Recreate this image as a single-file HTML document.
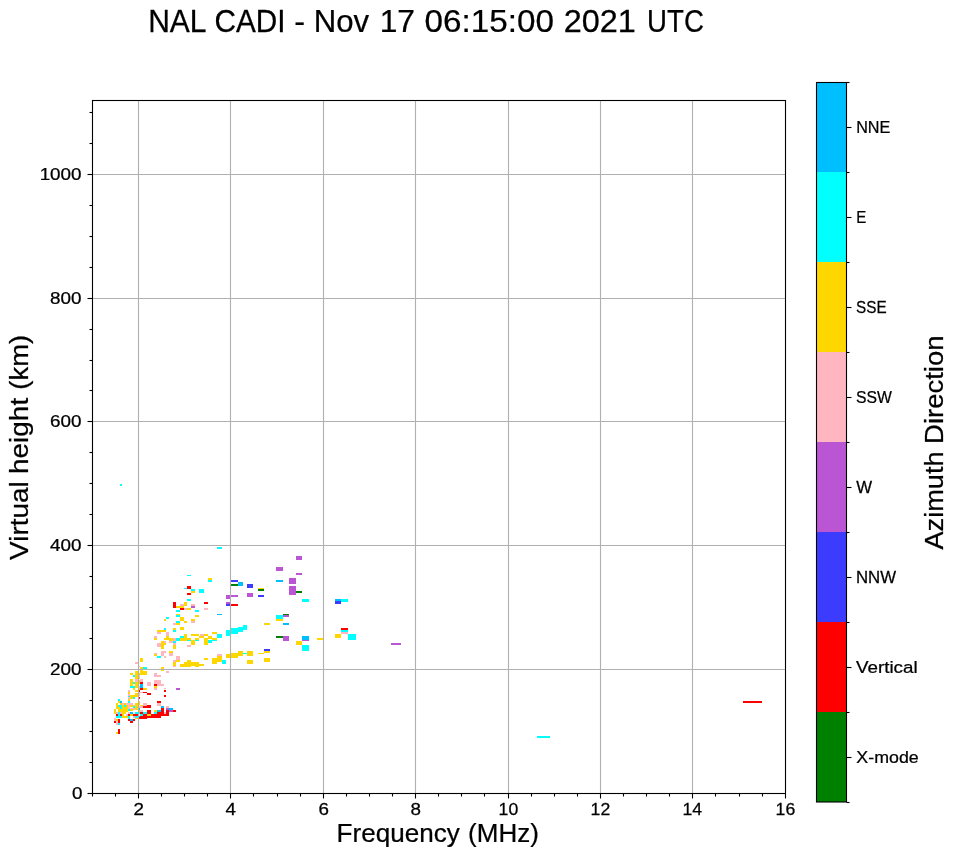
<!DOCTYPE html>
<html><head><meta charset="utf-8"><style>
html,body{margin:0;padding:0;background:#fff;width:958px;height:857px;overflow:hidden}
svg{display:block;will-change:transform}
text{font-family:"Liberation Sans",sans-serif;fill:#000;stroke:#000;stroke-width:0.25px}
</style></head><body>
<svg width="958" height="857" viewBox="0 0 958 857" shape-rendering="auto"><rect x="0" y="0" width="958" height="857" fill="#fff"/>
<g shape-rendering="crispEdges">
<rect x="217" y="547" width="5" height="2" fill="#00ffff"/>
<rect x="187" y="575" width="4" height="1" fill="#00ffff"/>
<rect x="208" y="578" width="4" height="2" fill="#ffd700"/>
<rect x="208" y="580" width="4" height="2" fill="#00ffff"/>
<rect x="231" y="580" width="7" height="2" fill="#3c3cff"/>
<rect x="231" y="584" width="7" height="2" fill="#008000"/>
<rect x="238" y="582" width="5" height="4" fill="#00bfff"/>
<rect x="187" y="586" width="4" height="3" fill="#ff0000"/>
<rect x="184" y="588" width="3" height="1" fill="#00ffff"/>
<rect x="191" y="589" width="4" height="2" fill="#00ffff"/>
<rect x="191" y="591" width="4" height="2" fill="#ffd700"/>
<rect x="199" y="589" width="5" height="4" fill="#00ffff"/>
<rect x="187" y="593" width="4" height="2" fill="#ff0000"/>
<rect x="226" y="595" width="4" height="4" fill="#ba55d3"/>
<rect x="231" y="595" width="7" height="2" fill="#ba55d3"/>
<rect x="187" y="599" width="4" height="2" fill="#00ffff"/>
<rect x="204" y="602" width="4" height="2" fill="#ff0000"/>
<rect x="173" y="602" width="3" height="6" fill="#ff0000"/>
<rect x="180" y="604" width="4" height="2" fill="#ffb6c1"/>
<rect x="184" y="602" width="3" height="4" fill="#ffd700"/>
<rect x="191" y="604" width="4" height="2" fill="#ffb6c1"/>
<rect x="191" y="606" width="4" height="2" fill="#ba55d3"/>
<rect x="176" y="606" width="8" height="2" fill="#ffd700"/>
<rect x="226" y="602" width="4" height="2" fill="#ba55d3"/>
<rect x="226" y="604" width="4" height="2" fill="#3c3cff"/>
<rect x="231" y="604" width="7" height="2" fill="#ff0000"/>
<rect x="180" y="608" width="4" height="2" fill="#ff0000"/>
<rect x="184" y="608" width="3" height="2" fill="#ffb6c1"/>
<rect x="187" y="608" width="4" height="2" fill="#ffd700"/>
<rect x="204" y="608" width="4" height="2" fill="#ffb6c1"/>
<rect x="176" y="610" width="4" height="2" fill="#00ffff"/>
<rect x="195" y="610" width="4" height="2" fill="#00ffff"/>
<rect x="296" y="556" width="6" height="4" fill="#ba55d3"/>
<rect x="276" y="567" width="7" height="4" fill="#ba55d3"/>
<rect x="296" y="573" width="6" height="2" fill="#ba55d3"/>
<rect x="276" y="580" width="7" height="2" fill="#00bfff"/>
<rect x="289" y="578" width="7" height="6" fill="#ba55d3"/>
<rect x="289" y="586" width="7" height="9" fill="#ba55d3"/>
<rect x="296" y="591" width="6" height="2" fill="#008000"/>
<rect x="247" y="584" width="6" height="4" fill="#3c3cff"/>
<rect x="258" y="588" width="6" height="1" fill="#ffd700"/>
<rect x="258" y="589" width="6" height="2" fill="#008000"/>
<rect x="247" y="593" width="6" height="4" fill="#ba55d3"/>
<rect x="258" y="595" width="6" height="2" fill="#3c3cff"/>
<rect x="302" y="599" width="7" height="3" fill="#00ffff"/>
<rect x="335" y="599" width="6" height="2" fill="#00bfff"/>
<rect x="335" y="601" width="6" height="3" fill="#3c3cff"/>
<rect x="341" y="599" width="7" height="3" fill="#00ffff"/>
<rect x="341" y="628" width="7" height="2" fill="#ff0000"/>
<rect x="341" y="630" width="7" height="2" fill="#00ffff"/>
<rect x="341" y="632" width="7" height="2" fill="#ffb6c1"/>
<rect x="335" y="634" width="6" height="4" fill="#ffd700"/>
<rect x="348" y="634" width="8" height="6" fill="#00ffff"/>
<rect x="302" y="636" width="7" height="4" fill="#00bfff"/>
<rect x="302" y="640" width="7" height="1" fill="#ba55d3"/>
<rect x="296" y="641" width="6" height="4" fill="#ffd700"/>
<rect x="302" y="645" width="7" height="6" fill="#00ffff"/>
<rect x="317" y="638" width="6" height="2" fill="#ffd700"/>
<rect x="391" y="643" width="10" height="2" fill="#ba55d3"/>
<rect x="120" y="484" width="2" height="2" fill="#00ffff"/>
<rect x="537" y="736" width="13" height="2" fill="#00ffff"/>
<rect x="743" y="701" width="19" height="2" fill="#ff0000"/>
<rect x="217" y="614" width="5" height="1" fill="#00bfff"/>
<rect x="276" y="615" width="7" height="4" fill="#00ffff"/>
<rect x="276" y="619" width="7" height="2" fill="#ffd700"/>
<rect x="283" y="614" width="6" height="1" fill="#008000"/>
<rect x="283" y="615" width="6" height="2" fill="#ba55d3"/>
<rect x="264" y="623" width="6" height="2" fill="#ffd700"/>
<rect x="283" y="623" width="6" height="2" fill="#00bfff"/>
<rect x="243" y="625" width="4" height="5" fill="#00ffff"/>
<rect x="238" y="627" width="5" height="5" fill="#00ffff"/>
<rect x="231" y="628" width="7" height="6" fill="#00ffff"/>
<rect x="226" y="630" width="4" height="6" fill="#00ffff"/>
<rect x="212" y="632" width="5" height="2" fill="#ffd700"/>
<rect x="200" y="634" width="4" height="2" fill="#ffb6c1"/>
<rect x="204" y="634" width="4" height="2" fill="#ffd700"/>
<rect x="200" y="636" width="4" height="2" fill="#ffd700"/>
<rect x="217" y="634" width="5" height="4" fill="#00ffff"/>
<rect x="208" y="636" width="4" height="3" fill="#ffd700"/>
<rect x="212" y="638" width="5" height="2" fill="#ffd700"/>
<rect x="204" y="638" width="4" height="7" fill="#ffd700"/>
<rect x="208" y="640" width="4" height="3" fill="#00ffff"/>
<rect x="212" y="640" width="5" height="1" fill="#00ffff"/>
<rect x="276" y="636" width="7" height="2" fill="#008000"/>
<rect x="283" y="636" width="6" height="5" fill="#ba55d3"/>
<rect x="264" y="649" width="6" height="2" fill="#3c3cff"/>
<rect x="264" y="651" width="6" height="2" fill="#ffd700"/>
<rect x="258" y="653" width="6" height="1" fill="#ffd700"/>
<rect x="247" y="651" width="6" height="5" fill="#ffd700"/>
<rect x="243" y="653" width="4" height="1" fill="#00ffff"/>
<rect x="238" y="651" width="5" height="5" fill="#ffd700"/>
<rect x="231" y="653" width="7" height="5" fill="#ffd700"/>
<rect x="226" y="654" width="4" height="4" fill="#ffd700"/>
<rect x="217" y="654" width="5" height="2" fill="#ffb6c1"/>
<rect x="217" y="656" width="5" height="6" fill="#ffd700"/>
<rect x="212" y="658" width="5" height="6" fill="#ffd700"/>
<rect x="222" y="660" width="4" height="4" fill="#00ffff"/>
<rect x="204" y="658" width="4" height="2" fill="#ffd700"/>
<rect x="200" y="664" width="4" height="2" fill="#ffd700"/>
<rect x="247" y="660" width="6" height="4" fill="#ffd700"/>
<rect x="264" y="658" width="6" height="4" fill="#ffd700"/>
<rect x="176" y="614" width="4" height="1" fill="#ffd700"/>
<rect x="176" y="615" width="4" height="2" fill="#00ffff"/>
<rect x="166" y="617" width="3" height="2" fill="#00ffff"/>
<rect x="164" y="619" width="2" height="2" fill="#ffd700"/>
<rect x="180" y="617" width="4" height="4" fill="#ffd700"/>
<rect x="195" y="615" width="4" height="2" fill="#ffd700"/>
<rect x="191" y="619" width="4" height="2" fill="#ffd700"/>
<rect x="191" y="621" width="4" height="2" fill="#ffb6c1"/>
<rect x="184" y="621" width="3" height="2" fill="#ffd700"/>
<rect x="176" y="621" width="4" height="2" fill="#00ffff"/>
<rect x="176" y="623" width="4" height="2" fill="#ffd700"/>
<rect x="173" y="623" width="3" height="2" fill="#ffb6c1"/>
<rect x="180" y="627" width="4" height="3" fill="#ffd700"/>
<rect x="173" y="628" width="3" height="2" fill="#ffd700"/>
<rect x="173" y="630" width="3" height="2" fill="#00ffff"/>
<rect x="164" y="628" width="2" height="2" fill="#00ffff"/>
<rect x="157" y="630" width="9" height="2" fill="#ffd700"/>
<rect x="157" y="632" width="4" height="2" fill="#ffb6c1"/>
<rect x="166" y="632" width="3" height="4" fill="#ffb6c1"/>
<rect x="154" y="636" width="3" height="2" fill="#ffb6c1"/>
<rect x="154" y="638" width="3" height="2" fill="#ffd700"/>
<rect x="166" y="636" width="3" height="2" fill="#ffd700"/>
<rect x="164" y="638" width="9" height="2" fill="#ffd700"/>
<rect x="169" y="640" width="4" height="1" fill="#ffd700"/>
<rect x="173" y="638" width="3" height="3" fill="#ffb6c1"/>
<rect x="176" y="638" width="4" height="3" fill="#00ffff"/>
<rect x="180" y="636" width="4" height="2" fill="#00ffff"/>
<rect x="180" y="638" width="7" height="3" fill="#ffd700"/>
<rect x="184" y="634" width="3" height="4" fill="#ffd700"/>
<rect x="187" y="638" width="4" height="2" fill="#ffd700"/>
<rect x="187" y="640" width="4" height="1" fill="#00ffff"/>
<rect x="191" y="634" width="8" height="2" fill="#ffd700"/>
<rect x="199" y="636" width="1" height="2" fill="#ffd700"/>
<rect x="195" y="638" width="4" height="2" fill="#ffd700"/>
<rect x="195" y="640" width="4" height="1" fill="#00ffff"/>
<rect x="191" y="640" width="4" height="5" fill="#ffd700"/>
<rect x="169" y="641" width="4" height="2" fill="#ffb6c1"/>
<rect x="173" y="641" width="3" height="2" fill="#00ffff"/>
<rect x="173" y="643" width="3" height="2" fill="#ffb6c1"/>
<rect x="173" y="645" width="3" height="3" fill="#ffd700"/>
<rect x="161" y="641" width="3" height="7" fill="#ffd700"/>
<rect x="164" y="641" width="2" height="2" fill="#ffb6c1"/>
<rect x="164" y="643" width="2" height="2" fill="#ffd700"/>
<rect x="157" y="643" width="4" height="4" fill="#ffb6c1"/>
<rect x="187" y="645" width="4" height="2" fill="#ffb6c1"/>
<rect x="161" y="648" width="3" height="1" fill="#ffd700"/>
<rect x="173" y="648" width="3" height="1" fill="#ffd700"/>
<rect x="161" y="651" width="5" height="2" fill="#ffb6c1"/>
<rect x="161" y="653" width="3" height="3" fill="#ffb6c1"/>
<rect x="164" y="656" width="2" height="2" fill="#ffb6c1"/>
<rect x="154" y="653" width="3" height="1" fill="#ffb6c1"/>
<rect x="154" y="654" width="3" height="2" fill="#ffd700"/>
<rect x="157" y="656" width="4" height="2" fill="#00ffff"/>
<rect x="169" y="651" width="4" height="2" fill="#ffd700"/>
<rect x="169" y="653" width="4" height="3" fill="#ffb6c1"/>
<rect x="176" y="656" width="4" height="4" fill="#ffb6c1"/>
<rect x="176" y="660" width="4" height="2" fill="#ffd700"/>
<rect x="173" y="660" width="3" height="2" fill="#ffb6c1"/>
<rect x="173" y="662" width="3" height="4" fill="#ffd700"/>
<rect x="173" y="666" width="3" height="1" fill="#ffb6c1"/>
<rect x="180" y="664" width="4" height="3" fill="#ffd700"/>
<rect x="184" y="662" width="3" height="5" fill="#ffd700"/>
<rect x="187" y="660" width="4" height="7" fill="#ffd700"/>
<rect x="191" y="662" width="4" height="4" fill="#ffd700"/>
<rect x="195" y="662" width="4" height="5" fill="#ffd700"/>
<rect x="199" y="664" width="1" height="2" fill="#ffd700"/>
<rect x="161" y="667" width="3" height="4" fill="#ffd700"/>
<rect x="166" y="671" width="3" height="2" fill="#ffb6c1"/>
<rect x="154" y="673" width="3" height="2" fill="#ffb6c1"/>
<rect x="154" y="675" width="7" height="2" fill="#ffb6c1"/>
<rect x="154" y="680" width="7" height="4" fill="#ffb6c1"/>
<rect x="140" y="658" width="3" height="4" fill="#ffd700"/>
<rect x="135" y="662" width="3" height="2" fill="#ffb6c1"/>
<rect x="139" y="666" width="1" height="1" fill="#ffb6c1"/>
<rect x="140" y="667" width="3" height="4" fill="#ffd700"/>
<rect x="143" y="667" width="4" height="2" fill="#00ffff"/>
<rect x="140" y="671" width="7" height="4" fill="#ffd700"/>
<rect x="139" y="673" width="1" height="2" fill="#ffd700"/>
<rect x="135" y="671" width="3" height="8" fill="#ffd700"/>
<rect x="130" y="673" width="3" height="2" fill="#ffd700"/>
<rect x="133" y="675" width="2" height="2" fill="#00ffff"/>
<rect x="139" y="675" width="1" height="2" fill="#ffb6c1"/>
<rect x="139" y="677" width="1" height="2" fill="#ffd700"/>
<rect x="130" y="679" width="3" height="5" fill="#ffd700"/>
<rect x="135" y="679" width="3" height="3" fill="#ffb6c1"/>
<rect x="135" y="682" width="3" height="2" fill="#ffd700"/>
<rect x="133" y="682" width="2" height="2" fill="#00ffff"/>
<rect x="140" y="679" width="3" height="3" fill="#ffb6c1"/>
<rect x="139" y="680" width="1" height="4" fill="#ffd700"/>
<rect x="140" y="682" width="3" height="2" fill="#ff0000"/>
<rect x="147" y="682" width="4" height="2" fill="#ffb6c1"/>
<rect x="130" y="684" width="3" height="2" fill="#ffd700"/>
<rect x="135" y="684" width="3" height="2" fill="#ffd700"/>
<rect x="140" y="684" width="3" height="2" fill="#00bfff"/>
<rect x="147" y="684" width="4" height="2" fill="#ffb6c1"/>
<rect x="130" y="686" width="5" height="2" fill="#00ffff"/>
<rect x="135" y="686" width="3" height="2" fill="#ffd700"/>
<rect x="139" y="686" width="1" height="2" fill="#ffb6c1"/>
<rect x="140" y="686" width="3" height="2" fill="#00bfff"/>
<rect x="133" y="688" width="2" height="2" fill="#ffd700"/>
<rect x="139" y="688" width="1" height="2" fill="#ffd700"/>
<rect x="140" y="688" width="3" height="2" fill="#ff0000"/>
<rect x="143" y="688" width="4" height="2" fill="#ffd700"/>
<rect x="128" y="690" width="2" height="2" fill="#ffb6c1"/>
<rect x="135" y="690" width="3" height="2" fill="#ffd700"/>
<rect x="139" y="690" width="1" height="2" fill="#ff0000"/>
<rect x="128" y="692" width="2" height="2" fill="#ffd700"/>
<rect x="139" y="692" width="1" height="4" fill="#ffb6c1"/>
<rect x="140" y="692" width="3" height="1" fill="#ffb6c1"/>
<rect x="143" y="692" width="4" height="1" fill="#ff0000"/>
<rect x="147" y="693" width="4" height="2" fill="#ff0000"/>
<rect x="128" y="694" width="2" height="2" fill="#ffb6c1"/>
<rect x="135" y="693" width="3" height="3" fill="#ffd700"/>
<rect x="128" y="696" width="2" height="2" fill="#00ffff"/>
<rect x="130" y="695" width="8" height="2" fill="#ffd700"/>
<rect x="128" y="697" width="2" height="2" fill="#ffb6c1"/>
<rect x="130" y="697" width="3" height="2" fill="#ffd700"/>
<rect x="133" y="697" width="2" height="2" fill="#00ffff"/>
<rect x="139" y="697" width="1" height="2" fill="#ff0000"/>
<rect x="128" y="699" width="2" height="2" fill="#ffd700"/>
<rect x="118" y="699" width="2" height="2" fill="#00ffff"/>
<rect x="128" y="701" width="2" height="2" fill="#00ffff"/>
<rect x="118" y="701" width="2" height="2" fill="#ffd700"/>
<rect x="120" y="701" width="2" height="2" fill="#00bfff"/>
<rect x="139" y="701" width="1" height="3" fill="#ffd700"/>
<rect x="116" y="703" width="2" height="2" fill="#ffd700"/>
<rect x="120" y="703" width="2" height="2" fill="#ffd700"/>
<rect x="122" y="703" width="2" height="2" fill="#ffb6c1"/>
<rect x="124" y="703" width="2" height="2" fill="#ffd700"/>
<rect x="126" y="703" width="7" height="2" fill="#ffb6c1"/>
<rect x="135" y="703" width="3" height="5" fill="#ffd700"/>
<rect x="143" y="703" width="4" height="2" fill="#ffb6c1"/>
<rect x="139" y="703" width="1" height="2" fill="#ffd700"/>
<rect x="118" y="705" width="4" height="2" fill="#00ffff"/>
<rect x="124" y="705" width="2" height="2" fill="#00ffff"/>
<rect x="122" y="705" width="2" height="2" fill="#ffd700"/>
<rect x="126" y="705" width="2" height="2" fill="#ffd700"/>
<rect x="128" y="705" width="2" height="2" fill="#ffb6c1"/>
<rect x="130" y="705" width="3" height="2" fill="#ffd700"/>
<rect x="133" y="705" width="2" height="1" fill="#ffb6c1"/>
<rect x="133" y="706" width="2" height="2" fill="#00ffff"/>
<rect x="140" y="705" width="3" height="1" fill="#ffd700"/>
<rect x="139" y="706" width="4" height="2" fill="#ffb6c1"/>
<rect x="143" y="705" width="8" height="3" fill="#ff0000"/>
<rect x="116" y="705" width="2" height="2" fill="#ffd700"/>
<rect x="116" y="707" width="4" height="2" fill="#ffd700"/>
<rect x="120" y="707" width="2" height="2" fill="#00ffff"/>
<rect x="122" y="707" width="6" height="2" fill="#ffd700"/>
<rect x="128" y="707" width="2" height="3" fill="#ffb6c1"/>
<rect x="130" y="708" width="5" height="2" fill="#ffb6c1"/>
<rect x="135" y="708" width="3" height="2" fill="#ffd700"/>
<rect x="139" y="708" width="1" height="2" fill="#00bfff"/>
<rect x="114" y="709" width="2" height="3" fill="#ffd700"/>
<rect x="118" y="709" width="10" height="3" fill="#ffd700"/>
<rect x="128" y="709" width="2" height="2" fill="#00ffff"/>
<rect x="130" y="709" width="3" height="2" fill="#ffd700"/>
<rect x="139" y="710" width="1" height="2" fill="#ffd700"/>
<rect x="140" y="710" width="3" height="2" fill="#ffb6c1"/>
<rect x="147" y="710" width="4" height="6" fill="#ff0000"/>
<rect x="139" y="712" width="1" height="2" fill="#00ffff"/>
<rect x="140" y="712" width="3" height="2" fill="#ff0000"/>
<rect x="143" y="712" width="4" height="2" fill="#00ffff"/>
<rect x="140" y="714" width="3" height="2" fill="#00ffff"/>
<rect x="143" y="714" width="4" height="2" fill="#ff0000"/>
<rect x="147" y="714" width="4" height="2" fill="#ffd700"/>
<rect x="151" y="714" width="1" height="2" fill="#ff0000"/>
<rect x="139" y="716" width="1" height="2" fill="#00bfff"/>
<rect x="140" y="716" width="12" height="2" fill="#ff0000"/>
<rect x="139" y="717" width="8" height="2" fill="#ff0000"/>
<rect x="114" y="712" width="2" height="2" fill="#ffd700"/>
<rect x="116" y="712" width="2" height="2" fill="#ffb6c1"/>
<rect x="118" y="712" width="2" height="6" fill="#00ffff"/>
<rect x="116" y="716" width="6" height="2" fill="#00ffff"/>
<rect x="120" y="712" width="2" height="2" fill="#ffb6c1"/>
<rect x="122" y="712" width="4" height="2" fill="#ffd700"/>
<rect x="122" y="714" width="2" height="4" fill="#ffd700"/>
<rect x="124" y="716" width="4" height="2" fill="#ffd700"/>
<rect x="116" y="714" width="2" height="2" fill="#ff0000"/>
<rect x="120" y="714" width="2" height="2" fill="#ff0000"/>
<rect x="126" y="714" width="2" height="2" fill="#ffb6c1"/>
<rect x="128" y="712" width="2" height="2" fill="#ffb6c1"/>
<rect x="128" y="714" width="2" height="2" fill="#ff0000"/>
<rect x="128" y="716" width="2" height="3" fill="#00ffff"/>
<rect x="130" y="712" width="3" height="2" fill="#00bfff"/>
<rect x="130" y="714" width="3" height="2" fill="#ffd700"/>
<rect x="133" y="714" width="5" height="2" fill="#ff0000"/>
<rect x="133" y="716" width="2" height="2" fill="#ffb6c1"/>
<rect x="135" y="712" width="3" height="2" fill="#00ffff"/>
<rect x="135" y="716" width="3" height="2" fill="#00ffff"/>
<rect x="135" y="718" width="3" height="1" fill="#ffd700"/>
<rect x="114" y="718" width="2" height="3" fill="#ffb6c1"/>
<rect x="116" y="719" width="2" height="2" fill="#ffd700"/>
<rect x="118" y="719" width="2" height="4" fill="#ff0000"/>
<rect x="114" y="721" width="2" height="2" fill="#ff0000"/>
<rect x="116" y="721" width="2" height="4" fill="#ffb6c1"/>
<rect x="118" y="723" width="2" height="2" fill="#00ffff"/>
<rect x="128" y="719" width="2" height="2" fill="#ff0000"/>
<rect x="130" y="719" width="3" height="2" fill="#00bfff"/>
<rect x="133" y="719" width="2" height="2" fill="#ff0000"/>
<rect x="130" y="721" width="3" height="2" fill="#ff0000"/>
<rect x="118" y="729" width="2" height="5" fill="#ff0000"/>
<rect x="116" y="732" width="2" height="2" fill="#ffd700"/>
<rect x="154" y="684" width="3" height="2" fill="#ff0000"/>
<rect x="154" y="686" width="3" height="2" fill="#ffd700"/>
<rect x="154" y="688" width="3" height="2" fill="#ffb6c1"/>
<rect x="157" y="684" width="7" height="2" fill="#ffb6c1"/>
<rect x="164" y="688" width="2" height="1" fill="#ffb6c1"/>
<rect x="164" y="690" width="2" height="2" fill="#ff0000"/>
<rect x="164" y="695" width="2" height="2" fill="#ff0000"/>
<rect x="176" y="688" width="4" height="2" fill="#ba55d3"/>
<rect x="157" y="701" width="4" height="2" fill="#ff0000"/>
<rect x="157" y="703" width="4" height="3" fill="#ffb6c1"/>
<rect x="143" y="703" width="4" height="3" fill="#ffb6c1"/>
<rect x="161" y="706" width="3" height="2" fill="#00bfff"/>
<rect x="166" y="706" width="3" height="2" fill="#ffb6c1"/>
<rect x="161" y="708" width="3" height="8" fill="#ff0000"/>
<rect x="166" y="708" width="3" height="2" fill="#ba55d3"/>
<rect x="169" y="708" width="4" height="2" fill="#00bfff"/>
<rect x="169" y="710" width="4" height="2" fill="#ba55d3"/>
<rect x="173" y="710" width="3" height="2" fill="#ff0000"/>
<rect x="166" y="710" width="3" height="6" fill="#ff0000"/>
<rect x="164" y="712" width="2" height="2" fill="#ffb6c1"/>
<rect x="154" y="710" width="3" height="2" fill="#ffd700"/>
<rect x="157" y="710" width="4" height="2" fill="#00bfff"/>
<rect x="154" y="712" width="3" height="2" fill="#00ffff"/>
<rect x="157" y="712" width="4" height="6" fill="#ff0000"/>
<rect x="151" y="714" width="10" height="4" fill="#ff0000"/>
<rect x="161" y="714" width="8" height="2" fill="#ff0000"/>
<rect x="140" y="716" width="7" height="3" fill="#ff0000"/>
<rect x="147" y="716" width="14" height="2" fill="#ff0000"/>
</g>
<line x1="138.5" y1="100" x2="138.5" y2="794" stroke="#b0b0b0" stroke-width="1.1"/>
<line x1="230.5" y1="100" x2="230.5" y2="794" stroke="#b0b0b0" stroke-width="1.1"/>
<line x1="323.5" y1="100" x2="323.5" y2="794" stroke="#b0b0b0" stroke-width="1.1"/>
<line x1="415.5" y1="100" x2="415.5" y2="794" stroke="#b0b0b0" stroke-width="1.1"/>
<line x1="508.5" y1="100" x2="508.5" y2="794" stroke="#b0b0b0" stroke-width="1.1"/>
<line x1="600.5" y1="100" x2="600.5" y2="794" stroke="#b0b0b0" stroke-width="1.1"/>
<line x1="692.5" y1="100" x2="692.5" y2="794" stroke="#b0b0b0" stroke-width="1.1"/>
<line x1="92" y1="669.5" x2="786" y2="669.5" stroke="#b0b0b0" stroke-width="1.1"/>
<line x1="92" y1="545.5" x2="786" y2="545.5" stroke="#b0b0b0" stroke-width="1.1"/>
<line x1="92" y1="421.5" x2="786" y2="421.5" stroke="#b0b0b0" stroke-width="1.1"/>
<line x1="92" y1="298.5" x2="786" y2="298.5" stroke="#b0b0b0" stroke-width="1.1"/>
<line x1="92" y1="174.5" x2="786" y2="174.5" stroke="#b0b0b0" stroke-width="1.1"/>
<rect x="92.5" y="100.5" width="693" height="693" fill="none" stroke="#000" stroke-width="1.1"/>
<line x1="92.5" y1="793.5" x2="92.5" y2="796.5" stroke="#000" stroke-width="1.1"/>
<line x1="115.5" y1="793.5" x2="115.5" y2="796.5" stroke="#000" stroke-width="1.1"/>
<line x1="138.5" y1="793.5" x2="138.5" y2="798.5" stroke="#000" stroke-width="1.1"/>
<line x1="161.5" y1="793.5" x2="161.5" y2="796.5" stroke="#000" stroke-width="1.1"/>
<line x1="184.5" y1="793.5" x2="184.5" y2="796.5" stroke="#000" stroke-width="1.1"/>
<line x1="207.5" y1="793.5" x2="207.5" y2="796.5" stroke="#000" stroke-width="1.1"/>
<line x1="230.5" y1="793.5" x2="230.5" y2="798.5" stroke="#000" stroke-width="1.1"/>
<line x1="253.5" y1="793.5" x2="253.5" y2="796.5" stroke="#000" stroke-width="1.1"/>
<line x1="277.5" y1="793.5" x2="277.5" y2="796.5" stroke="#000" stroke-width="1.1"/>
<line x1="300.5" y1="793.5" x2="300.5" y2="796.5" stroke="#000" stroke-width="1.1"/>
<line x1="323.5" y1="793.5" x2="323.5" y2="798.5" stroke="#000" stroke-width="1.1"/>
<line x1="346.5" y1="793.5" x2="346.5" y2="796.5" stroke="#000" stroke-width="1.1"/>
<line x1="369.5" y1="793.5" x2="369.5" y2="796.5" stroke="#000" stroke-width="1.1"/>
<line x1="392.5" y1="793.5" x2="392.5" y2="796.5" stroke="#000" stroke-width="1.1"/>
<line x1="415.5" y1="793.5" x2="415.5" y2="798.5" stroke="#000" stroke-width="1.1"/>
<line x1="438.5" y1="793.5" x2="438.5" y2="796.5" stroke="#000" stroke-width="1.1"/>
<line x1="461.5" y1="793.5" x2="461.5" y2="796.5" stroke="#000" stroke-width="1.1"/>
<line x1="484.5" y1="793.5" x2="484.5" y2="796.5" stroke="#000" stroke-width="1.1"/>
<line x1="508.5" y1="793.5" x2="508.5" y2="798.5" stroke="#000" stroke-width="1.1"/>
<line x1="531.5" y1="793.5" x2="531.5" y2="796.5" stroke="#000" stroke-width="1.1"/>
<line x1="554.5" y1="793.5" x2="554.5" y2="796.5" stroke="#000" stroke-width="1.1"/>
<line x1="577.5" y1="793.5" x2="577.5" y2="796.5" stroke="#000" stroke-width="1.1"/>
<line x1="600.5" y1="793.5" x2="600.5" y2="798.5" stroke="#000" stroke-width="1.1"/>
<line x1="623.5" y1="793.5" x2="623.5" y2="796.5" stroke="#000" stroke-width="1.1"/>
<line x1="646.5" y1="793.5" x2="646.5" y2="796.5" stroke="#000" stroke-width="1.1"/>
<line x1="669.5" y1="793.5" x2="669.5" y2="796.5" stroke="#000" stroke-width="1.1"/>
<line x1="692.5" y1="793.5" x2="692.5" y2="798.5" stroke="#000" stroke-width="1.1"/>
<line x1="715.5" y1="793.5" x2="715.5" y2="796.5" stroke="#000" stroke-width="1.1"/>
<line x1="739.5" y1="793.5" x2="739.5" y2="796.5" stroke="#000" stroke-width="1.1"/>
<line x1="762.5" y1="793.5" x2="762.5" y2="796.5" stroke="#000" stroke-width="1.1"/>
<line x1="785.5" y1="793.5" x2="785.5" y2="798.5" stroke="#000" stroke-width="1.1"/>
<line x1="92.5" y1="793.5" x2="87.5" y2="793.5" stroke="#000" stroke-width="1.1"/>
<line x1="92.5" y1="762.5" x2="89.5" y2="762.5" stroke="#000" stroke-width="1.1"/>
<line x1="92.5" y1="731.5" x2="89.5" y2="731.5" stroke="#000" stroke-width="1.1"/>
<line x1="92.5" y1="700.5" x2="89.5" y2="700.5" stroke="#000" stroke-width="1.1"/>
<line x1="92.5" y1="669.5" x2="87.5" y2="669.5" stroke="#000" stroke-width="1.1"/>
<line x1="92.5" y1="638.5" x2="89.5" y2="638.5" stroke="#000" stroke-width="1.1"/>
<line x1="92.5" y1="607.5" x2="89.5" y2="607.5" stroke="#000" stroke-width="1.1"/>
<line x1="92.5" y1="576.5" x2="89.5" y2="576.5" stroke="#000" stroke-width="1.1"/>
<line x1="92.5" y1="545.5" x2="87.5" y2="545.5" stroke="#000" stroke-width="1.1"/>
<line x1="92.5" y1="514.5" x2="89.5" y2="514.5" stroke="#000" stroke-width="1.1"/>
<line x1="92.5" y1="483.5" x2="89.5" y2="483.5" stroke="#000" stroke-width="1.1"/>
<line x1="92.5" y1="452.5" x2="89.5" y2="452.5" stroke="#000" stroke-width="1.1"/>
<line x1="92.5" y1="421.5" x2="87.5" y2="421.5" stroke="#000" stroke-width="1.1"/>
<line x1="92.5" y1="390.5" x2="89.5" y2="390.5" stroke="#000" stroke-width="1.1"/>
<line x1="92.5" y1="360.5" x2="89.5" y2="360.5" stroke="#000" stroke-width="1.1"/>
<line x1="92.5" y1="329.5" x2="89.5" y2="329.5" stroke="#000" stroke-width="1.1"/>
<line x1="92.5" y1="298.5" x2="87.5" y2="298.5" stroke="#000" stroke-width="1.1"/>
<line x1="92.5" y1="267.5" x2="89.5" y2="267.5" stroke="#000" stroke-width="1.1"/>
<line x1="92.5" y1="236.5" x2="89.5" y2="236.5" stroke="#000" stroke-width="1.1"/>
<line x1="92.5" y1="205.5" x2="89.5" y2="205.5" stroke="#000" stroke-width="1.1"/>
<line x1="92.5" y1="174.5" x2="87.5" y2="174.5" stroke="#000" stroke-width="1.1"/>
<line x1="92.5" y1="143.5" x2="89.5" y2="143.5" stroke="#000" stroke-width="1.1"/>
<line x1="92.5" y1="112.5" x2="89.5" y2="112.5" stroke="#000" stroke-width="1.1"/>
<text transform="translate(148.14,31.90) scale(0.9848,1)" font-size="30.5">NAL</text>
<text transform="translate(214.54,31.90) scale(0.9752,1)" font-size="30.5">CADI</text>
<text transform="translate(294.37,31.90) scale(1.0667,1)" font-size="30.5">-</text>
<text transform="translate(313.75,31.90) scale(1.0214,1)" font-size="30.5">Nov</text>
<text transform="translate(379.65,31.90) scale(1.0433,1)" font-size="30.5">17</text>
<text transform="translate(424.54,31.90) scale(1.0899,1)" font-size="30.5">06:15:00</text>
<text transform="translate(563.70,31.90) scale(1.0641,1)" font-size="30.5">2021</text>
<text transform="translate(647.06,31.90) scale(0.9063,1)" font-size="30.5">UTC</text>
<text transform="translate(336.53,841.90) scale(1.0075,1)" font-size="25.9">Frequency</text>
<text transform="translate(468.09,841.90) scale(1.0037,1)" font-size="25.9">(MHz)</text>
<text transform="translate(28.00,559.97) rotate(-90) scale(1.0803,1)" font-size="25.9">Virtual</text>
<text transform="translate(28.00,473.99) rotate(-90) scale(1.0793,1)" font-size="25.9">height</text>
<text transform="translate(28.00,389.69) rotate(-90) scale(1.0585,1)" font-size="25.9">(km)</text>
<text transform="translate(942.90,549.60) rotate(-90) scale(1.0507,1)" font-size="25.9">Azimuth</text>
<text transform="translate(942.90,443.89) rotate(-90) scale(1.0616,1)" font-size="25.9">Direction</text>
<text transform="translate(72.09,798.70) scale(1.1650,1)" font-size="16.2">0</text>
<text transform="translate(50.12,674.70) scale(1.1650,1)" font-size="16.2">200</text>
<text transform="translate(50.12,550.70) scale(1.1650,1)" font-size="16.2">400</text>
<text transform="translate(50.12,426.70) scale(1.1650,1)" font-size="16.2">600</text>
<text transform="translate(50.12,303.70) scale(1.1650,1)" font-size="16.2">800</text>
<text transform="translate(39.63,179.70) scale(1.1650,1)" font-size="16.2">1000</text>
<text transform="translate(133.48,814.80) scale(1.1600,1)" font-size="16.2">2</text>
<text transform="translate(225.62,814.80) scale(1.1600,1)" font-size="16.2">4</text>
<text transform="translate(318.48,814.80) scale(1.1600,1)" font-size="16.2">6</text>
<text transform="translate(410.48,814.80) scale(1.1600,1)" font-size="16.2">8</text>
<text transform="translate(498.62,814.80) scale(1.0900,1)" font-size="16.2">10</text>
<text transform="translate(590.62,814.80) scale(1.0900,1)" font-size="16.2">12</text>
<text transform="translate(682.48,814.80) scale(1.0900,1)" font-size="16.2">14</text>
<text transform="translate(775.62,814.80) scale(1.0900,1)" font-size="16.2">16</text>
<rect x="816.5" y="82" width="30" height="90" fill="#00bfff"/>
<rect x="816.5" y="172" width="30" height="90" fill="#00ffff"/>
<rect x="816.5" y="262" width="30" height="90" fill="#ffd700"/>
<rect x="816.5" y="352" width="30" height="90" fill="#ffb6c1"/>
<rect x="816.5" y="442" width="30" height="90" fill="#ba55d3"/>
<rect x="816.5" y="532" width="30" height="90" fill="#3c3cff"/>
<rect x="816.5" y="622" width="30" height="90" fill="#ff0000"/>
<rect x="816.5" y="712" width="30" height="90" fill="#008000"/>
<rect x="816.5" y="82.5" width="30" height="719.5" fill="none" stroke="#000" stroke-width="1.1"/>
<line x1="846.5" y1="82.5" x2="849.5" y2="82.5" stroke="#000" stroke-width="1.1"/>
<line x1="846.5" y1="172.5" x2="849.5" y2="172.5" stroke="#000" stroke-width="1.1"/>
<line x1="846.5" y1="262.5" x2="849.5" y2="262.5" stroke="#000" stroke-width="1.1"/>
<line x1="846.5" y1="352.5" x2="849.5" y2="352.5" stroke="#000" stroke-width="1.1"/>
<line x1="846.5" y1="442.5" x2="849.5" y2="442.5" stroke="#000" stroke-width="1.1"/>
<line x1="846.5" y1="532.5" x2="849.5" y2="532.5" stroke="#000" stroke-width="1.1"/>
<line x1="846.5" y1="622.5" x2="849.5" y2="622.5" stroke="#000" stroke-width="1.1"/>
<line x1="846.5" y1="712.5" x2="849.5" y2="712.5" stroke="#000" stroke-width="1.1"/>
<line x1="846.5" y1="802.5" x2="849.5" y2="802.5" stroke="#000" stroke-width="1.1"/>
<line x1="846.5" y1="127.5" x2="851.5" y2="127.5" stroke="#000" stroke-width="1.1"/>
<text transform="translate(856.17,132.80) scale(0.9802,1)" font-size="16.5">NNE</text>
<line x1="846.5" y1="217.5" x2="851.5" y2="217.5" stroke="#000" stroke-width="1.1"/>
<text transform="translate(856.16,222.80) scale(0.9111,1)" font-size="16.5">E</text>
<line x1="846.5" y1="307.5" x2="851.5" y2="307.5" stroke="#000" stroke-width="1.1"/>
<text transform="translate(856.11,312.80) scale(0.9238,1)" font-size="16.5">SSE</text>
<line x1="846.5" y1="397.5" x2="851.5" y2="397.5" stroke="#000" stroke-width="1.1"/>
<text transform="translate(856.08,402.80) scale(0.9551,1)" font-size="16.5">SSW</text>
<line x1="846.5" y1="487.5" x2="851.5" y2="487.5" stroke="#000" stroke-width="1.1"/>
<text transform="translate(856.15,492.80) scale(1.0164,1)" font-size="16.5">W</text>
<line x1="846.5" y1="577.5" x2="851.5" y2="577.5" stroke="#000" stroke-width="1.1"/>
<text transform="translate(855.93,582.80) scale(1.0158,1)" font-size="16.5">NNW</text>
<line x1="846.5" y1="667.5" x2="851.5" y2="667.5" stroke="#000" stroke-width="1.1"/>
<text transform="translate(856.02,672.80) scale(1.1393,1)" font-size="16.5">Vertical</text>
<line x1="846.5" y1="757.5" x2="851.5" y2="757.5" stroke="#000" stroke-width="1.1"/>
<text transform="translate(856.36,762.80) scale(1.0796,1)" font-size="16.5">X-mode</text></svg>
</body></html>
